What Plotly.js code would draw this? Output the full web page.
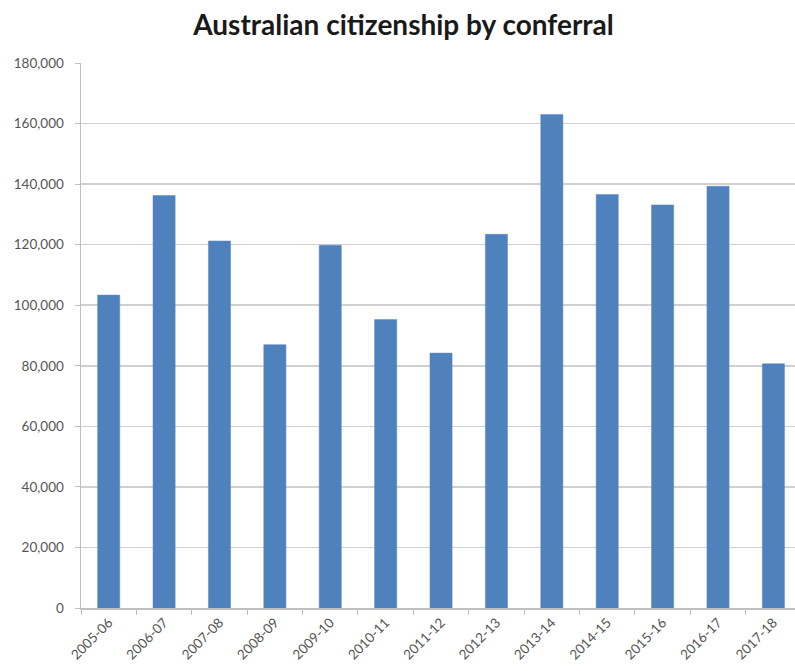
<!DOCTYPE html>
<html>
<head>
<meta charset="utf-8">
<script src="https://cdn.plot.ly/plotly-3.0.1.min.js"></script>
<style>html,body{margin:0;padding:0;background:#fff;}#chart{width:795px;height:671px;}</style>
</head>
<body>
<div id="chart"></div>
<script>
var years = ["2005-06","2006-07","2007-08","2008-09","2009-10","2010-11","2011-12","2012-13","2013-14","2014-15","2015-16","2016-17","2017-18"];
var conferrals = [103350,136256,121221,86981,119791,95294,84183,123438,163017,136572,133126,139280,80649];
var yTicks = [0,20000,40000,60000,80000,100000,120000,140000,160000,180000];

var trace = {
  type: 'bar',
  x: years,
  y: conferrals,
  marker: {color: '#4f81bd', line: {color: '#5a8ac4', width: 0.5}},
  hoverinfo: 'x+y'
};

var layout = {
  width: 795, height: 671,
  paper_bgcolor: '#ffffff', plot_bgcolor: '#ffffff',
  margin: {l: 81, r: 0, t: 63, b: 63, pad: 0},
  bargap: 0.6,
  showlegend: false,
  font: {family: 'Lato, "Open Sans", sans-serif', color: '#595959', size: 13},
  title: {
    text: 'Australian citizenship by conferral',
    font: {family: 'Lato, "Open Sans", sans-serif', size: 28, color: '#1a1a1a', weight: 'bold'},
    x: 0.5075, xanchor: 'center', xref: 'container',
    y: 0.962, yanchor: 'middle', yref: 'container'
  },
  xaxis: {
    type: 'category',
    range: [-0.5, 12.39],
    showline: true, linecolor: '#bfbfbf', linewidth: 1.5,
    ticks: 'outside', tickson: 'boundaries', ticklen: 5, tickcolor: '#bfbfbf', tickwidth: 1,
    tickangle: -45,
    tickfont: {size: 13.5, color: '#555555'},
    showgrid: false, zeroline: false, fixedrange: true
  },
  yaxis: {
    range: [0, 180000],
    tickvals: yTicks,
    tickformat: ',d',
    showline: true, linecolor: '#bfbfbf', linewidth: 1.5,
    ticks: 'outside', ticklen: 5, tickcolor: '#bfbfbf', tickwidth: 1,
    showgrid: true, gridcolor: '#d0d0d0', gridwidth: 1.5,
    zeroline: false,
    tickfont: {size: 13.5, color: '#555555'},
    ticklabelstandoff: 8,
    fixedrange: true
  }
};

Plotly.newPlot('chart', [trace], layout, {displayModeBar: false, staticPlot: true});
</script>
</body>
</html>
